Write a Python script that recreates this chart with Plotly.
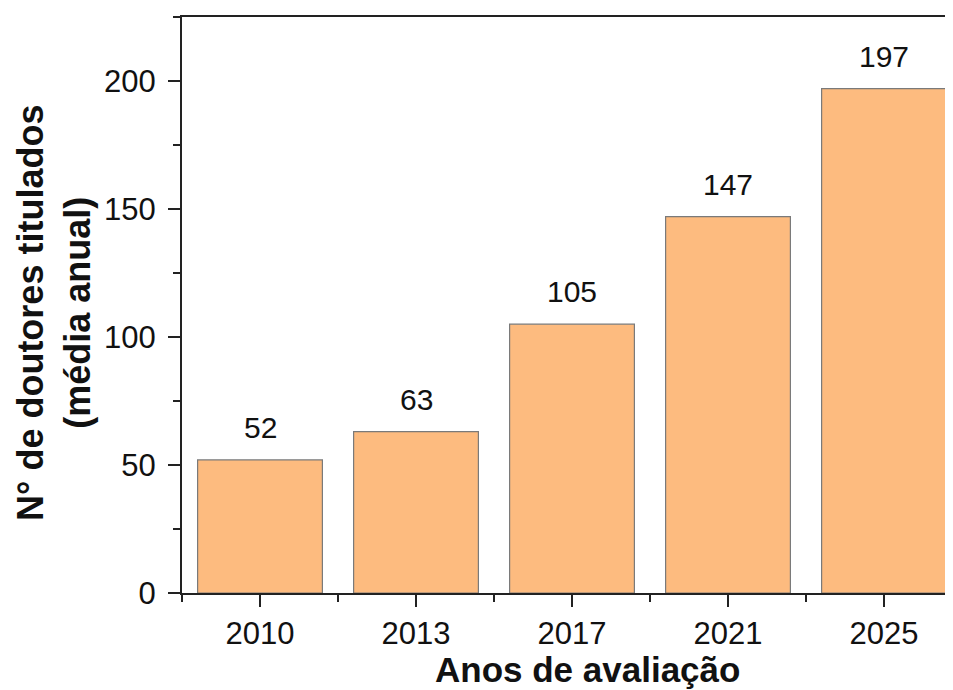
import plotly.graph_objects as go

years = ["2010", "2013", "2017", "2021", "2025"]
values = [52, 63, 105, 147, 197]
y_tick_vals = [0, 50, 100, 150, 200]

x_pos = list(range(len(years)))

fig = go.Figure()
fig.add_trace(go.Bar(
    x=x_pos, y=values, width=0.8,
    marker=dict(color="#FDBB7F", line=dict(color="#7A7A7A", width=1.2)),
    showlegend=False, hoverinfo="skip",
))

for xi, v in zip(x_pos, values):
    fig.add_annotation(x=xi, y=v, text=str(v), showarrow=False,
                       yanchor="bottom", yshift=14,
                       font=dict(family="Liberation Sans, Arial", size=30, color="#111"))

axis_font = dict(family="Liberation Sans, Arial", size=31, color="#111")

# page body has an 8px margin, so the figure is offset by 8px
fig.update_layout(
    width=945, height=682,
    margin=dict(l=174, r=0, t=9, b=97),
    plot_bgcolor="white", paper_bgcolor="white",
    xaxis=dict(
        range=[-0.5, -0.5 + 771/156],
        tickvals=x_pos, ticktext=years,
        ticks="outside", ticklen=12, tickwidth=2, tickcolor="#222",
        showline=True, linecolor="#222", linewidth=2, mirror=True,
        showgrid=False, zeroline=False,
        tickfont=axis_font, ticklabelstandoff=0,
        minor=dict(tickvals=[i - 0.5 for i in range(len(years) + 1)],
                   ticks="outside", ticklen=7, tickwidth=2, tickcolor="#222"),
    ),
    yaxis=dict(
        range=[0, 225],
        tickvals=y_tick_vals,
        ticks="outside", ticklen=12, tickwidth=2, tickcolor="#222",
        showline=True, linecolor="#222", linewidth=2,
        showgrid=False, zeroline=False,
        tickfont=axis_font, ticklabelstandoff=6,
        minor=dict(dtick=25, tick0=0, ticks="outside", ticklen=7, tickwidth=2, tickcolor="#222"),
    ),
)

title_font = dict(family="Liberation Sans, Arial", size=35, color="#111")
fig.add_annotation(xref="paper", yref="paper", x=(587 - 182) / 771, y=-76 / 576,
                   text="<b>Anos de avaliação</b>", showarrow=False,
                   xanchor="center", yanchor="middle", font=title_font)
fig.add_annotation(xref="paper", yref="paper", x=(54 - 182) / 771, y=(593 - 313) / 576,
                   text="<b>N° de doutores titulados<br>(média anual)</b>", showarrow=False,
                   textangle=-90, xanchor="center", yanchor="middle",
                   font=dict(family="Liberation Sans, Arial", size=36, color="#111"))

fig.write_html("out.html")
